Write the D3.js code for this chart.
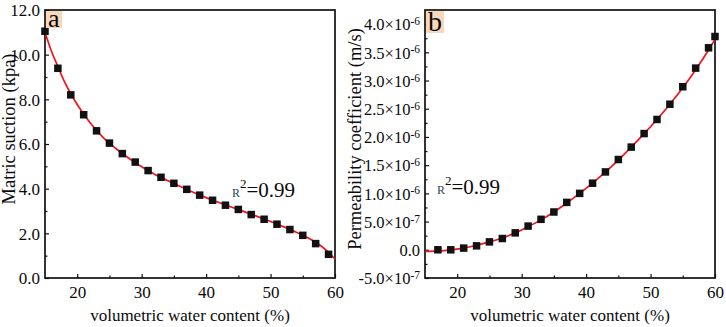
<!DOCTYPE html>
<html>
<head>
<meta charset="utf-8">
<script src="https://cdn.jsdelivr.net/npm/d3@7"></script>
<style>
  body { margin: 0; background: #fff; }
  svg { display: block; }
  text { font-family: "Liberation Serif", "Times New Roman", serif; fill: #0a0a0a; }
</style>
</head>
<body>
<div id="chart"></div>
<script>
// panel a: matric suction (kPa) vs volumetric water content (%)
const waterA = [15, 17, 19, 21, 23, 25, 27, 29, 31, 33, 35, 37, 39, 41, 43, 45, 47, 49, 51, 53, 55, 57, 59];
const suction = [11.05, 9.39, 8.2, 7.31, 6.59, 6.04, 5.57, 5.19, 4.81, 4.51, 4.24, 3.97, 3.71, 3.48, 3.26, 3.07, 2.84, 2.63, 2.41, 2.17, 1.91, 1.54, 1.06];
const fitWaterA = [15, 16, 17, 18, 19, 20, 22, 24, 26, 28, 30, 32, 34, 36, 38, 40, 42, 44, 46, 48, 50, 52, 54, 56, 58, 60];
const fitSuction = [11.0, 10.15, 9.47, 8.8, 8.25, 7.77, 6.95, 6.3, 5.8, 5.36, 4.98, 4.65, 4.37, 4.1, 3.84, 3.6, 3.38, 3.17, 2.96, 2.75, 2.53, 2.3, 2.05, 1.77, 1.4, 0.85];

// panel b: permeability coefficient, in units of 1e-6 m/s
const waterB = [17, 19, 21, 23, 25, 27, 29, 31, 33, 35, 37, 39, 41, 43, 45, 47, 49, 51, 53, 55, 57, 59, 60];
const permeability = [0.0, 0.0, 0.03, 0.07, 0.14, 0.2, 0.3, 0.42, 0.54, 0.67, 0.84, 1.0, 1.18, 1.38, 1.6, 1.82, 2.06, 2.31, 2.58, 2.89, 3.22, 3.58, 3.78];
const fitWaterB = [15, 17, 19, 21, 23, 25, 27, 29, 31, 33, 35, 37, 39, 41, 43, 45, 47, 49, 51, 53, 55, 57, 59, 60];
const fitPermeability = [-0.03, -0.02, 0.0, 0.03, 0.08, 0.14, 0.21, 0.3, 0.41, 0.53, 0.67, 0.83, 1.0, 1.18, 1.38, 1.59, 1.82, 2.06, 2.31, 2.58, 2.87, 3.19, 3.54, 3.73];

// ticks
const xTicks = [20, 30, 40, 50, 60];
const xMinor = [25, 35, 45, 55];
const suctionTicks = [0, 2, 4, 6, 8, 10, 12];
const suctionMinor = [1, 3, 5, 7, 9, 11];
const permTicks = [-0.5, 0, 0.5, 1.0, 1.5, 2.0, 2.5, 3.0, 3.5, 4.0];
const permMinor = [-0.25, 0.25, 0.75, 1.25, 1.75, 2.25, 2.75, 3.25, 3.75];

const FONT = '"Liberation Serif", "Times New Roman", serif';

const svg = d3.select("#chart")
  .append("svg")
  .attr("width", 726)
  .attr("height", 327);

function permLabel(sel, v) {
  // 4.0×10^-6 style labels
  if (v === 0) { sel.text("0.0"); return; }
  let mant, exp;
  if (Math.abs(v) < 1) { mant = (v * 10).toFixed(1); exp = "-7"; }
  else { mant = v.toFixed(1); exp = "-6"; }
  sel.text(null);
  sel.append("tspan").text(mant + "×10");
  sel.append("tspan").attr("dy", "-0.45em").style("font-size", "11.5px").text(exp);
}

function drawPanel(p) {
  const g = svg.append("g");
  const x = d3.scaleLinear().domain([15, 60]).range([p.left, p.right]);
  const y = d3.scaleLinear().domain(p.yDomain).range([278, 10]);

  g.append("rect")
    .attr("x", p.left).attr("y", 10)
    .attr("width", p.right - p.left).attr("height", 268)
    .attr("fill", "#fff");

  // bottom axis
  const xAxis = g.append("g")
    .attr("transform", "translate(0,278)")
    .call(d3.axisBottom(x).tickValues(xTicks).tickSizeInner(-4).tickSizeOuter(0).tickPadding(8));
  g.append("g")
    .attr("transform", "translate(0,278)")
    .call(d3.axisBottom(x).tickValues(xMinor).tickSizeInner(-2.5).tickSizeOuter(0).tickFormat(""));

  // left axis
  const yAxis = g.append("g")
    .attr("transform", `translate(${p.left},0)`)
    .call(d3.axisLeft(y).tickValues(p.ticks).tickSizeInner(-4).tickSizeOuter(0).tickPadding(5).tickFormat(""));
  g.append("g")
    .attr("transform", `translate(${p.left},0)`)
    .call(d3.axisLeft(y).tickValues(p.minor).tickSizeInner(-2.5).tickSizeOuter(0).tickFormat(""));

  g.selectAll("g").attr("font-family", FONT);
  g.selectAll(".domain").remove();
  g.selectAll(".tick line").attr("stroke", "#111").attr("stroke-width", 1.2);
  xAxis.selectAll("text").style("font-size", "17px").attr("fill", "#0a0a0a");

  // y tick labels
  yAxis.selectAll(".tick").each(function (d) {
    const t = d3.select(this).select("text")
      .attr("x", -5).attr("dy", "0.35em")
      .style("font-size", p.tickSize).attr("fill", "#0a0a0a");
    p.label(t, d);
  });

  // frame
  g.append("rect")
    .attr("x", p.left).attr("y", 10)
    .attr("width", p.right - p.left).attr("height", 268)
    .attr("fill", "none").attr("stroke", "#111").attr("stroke-width", 1.7);

  // fitted curve
  const line = d3.line()
    .x(d => x(d[0])).y(d => y(d[1]))
    .curve(d3.curveMonotoneX);
  g.append("path")
    .datum(p.fitX.map((v, i) => [v, p.fitY[i]]))
    .attr("d", line)
    .attr("fill", "none")
    .attr("stroke", "#f2141c")
    .attr("stroke-width", 1.7);

  // measured points
  g.selectAll("rect.pt")
    .data(p.xs.map((v, i) => [v, p.ys[i]]))
    .join("rect")
    .attr("class", "pt")
    .attr("x", d => x(d[0]) - 3.75)
    .attr("y", d => y(d[1]) - 3.75)
    .attr("width", 7.5).attr("height", 7.5)
    .attr("fill", "#111");

  // panel letter with peach background
  const box = g.append("rect")
    .attr("x", p.left + 1).attr("y", 11)
    .attr("height", p.letterBoxH)
    .attr("fill", "#f9d7bb");
  const letter = g.append("text")
    .attr("x", p.left + 3).attr("y", p.letterY)
    .style("font-size", p.letterSize + "px")
    .text(p.letter);
  box.attr("width", letter.node().getBBox().width + 4);

  // R^2 note
  const r2 = g.append("text")
    .attr("x", p.r2x).attr("y", p.r2y);
  r2.append("tspan").style("font-size", "12px").attr("fill", "#2d4a55").text("R");
  r2.append("tspan").attr("dy", "-9").style("font-size", "13px").text("2");
  r2.append("tspan").attr("dy", "9").style("font-size", "21px").text("=0.99");

  // axis titles
  g.append("text")
    .attr("x", (p.left + p.right) / 2).attr("y", 321)
    .attr("text-anchor", "middle")
    .style("font-size", "17px")
    .text("volumetric water content (%)");

  g.append("text")
    .attr("text-anchor", "middle")
    .attr("transform", `translate(${p.titleX},${p.titleY})rotate(-90)`)
    .style("font-size", "18.5px")
    .text(p.yTitle);
}

drawPanel({
  left: 45, right: 335, yDomain: [0, 12],
  ticks: suctionTicks, minor: suctionMinor, tickSize: "17px",
  label: (t, d) => t.text(d.toFixed(1)),
  xs: waterA, ys: suction, fitX: fitWaterA, fitY: fitSuction,
  letter: "a", letterY: 27, letterSize: 26, letterBoxH: 17,
  r2x: 232, r2y: 197,
  yTitle: "Matric suction (kpa)", titleX: 15, titleY: 129
});

drawPanel({
  left: 425, right: 715, yDomain: [-0.5, 4.25],
  ticks: permTicks, minor: permMinor, tickSize: "16.5px",
  label: permLabel,
  xs: waterB, ys: permeability, fitX: fitWaterB, fitY: fitPermeability,
  letter: "b", letterY: 31, letterSize: 28, letterBoxH: 22,
  r2x: 437, r2y: 194,
  yTitle: "Permeability coefficient (m/s)", titleX: 361, titleY: 139
});
</script>
</body>
</html>
